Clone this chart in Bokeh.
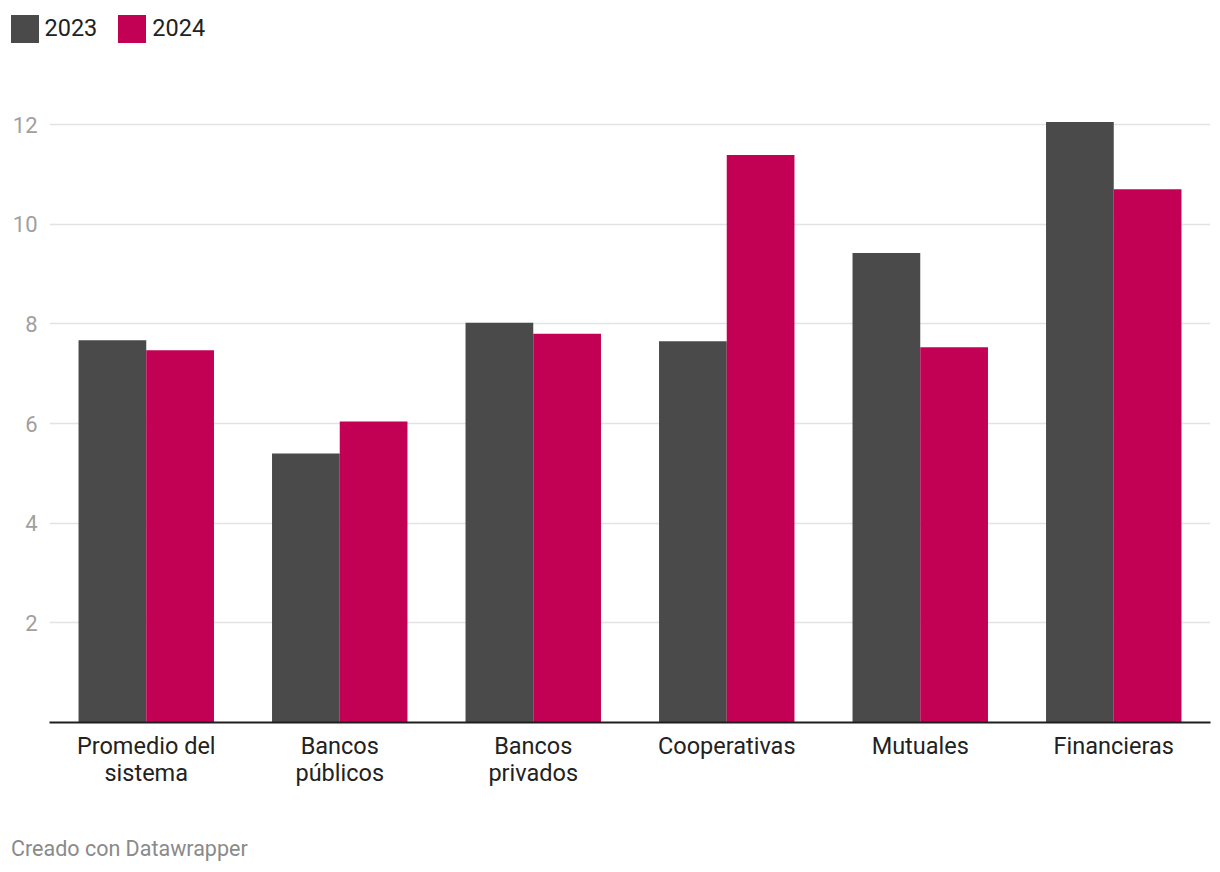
from bokeh.plotting import figure
from bokeh.models import (Range1d, FixedTicker, Legend, LegendItem, Label,
                          LinearAxis, ColumnDataSource)
from bokeh.transform import dodge
from bokeh.embed import file_html
from bokeh.resources import INLINE

categories = ["Promedio del sistema", "Bancos públicos", "Bancos privados",
              "Cooperativas", "Mutuales", "Financieras"]
label_line1 = ["Promedio del", "Bancos", "Bancos", "Cooperativas", "Mutuales", "Financieras"]
label_line2 = ["sistema", "públicos", "privados", "", "", ""]
values_2023 = [7.67, 5.40, 8.02, 7.65, 9.42, 12.05]
values_2024 = [7.47, 6.04, 7.80, 11.39, 7.53, 10.70]
series_names = ["2023", "2024"]
y_ticks = [2, 4, 6, 8, 10, 12]
footer_text = "Creado con Datawrapper"

COL_2023 = "#4a4a4a"
COL_2024 = "#c20154"
FONT = "Roboto"
TEXT = "#222222"

W, H = 1220, 872
LEG_H = 48           # legend strip height
FRAME_TOP = 100      # page pixel of plot-area top
FRAME_BOTTOM = 722   # page pixel of zero line
MAIN_BOTTOM = 802    # page pixel where the chart block ends
FOOT_H = H - MAIN_BOTTOM
PX_PER_UNIT = 49.83

idx = list(range(len(categories)))

# ---------------- legend strip ----------------
lg = figure(width=W, height=LEG_H, output_backend="svg", toolbar_location=None,
            x_axis_type=None, y_axis_type=None,
            x_range=Range1d(0, 1), y_range=Range1d(0, 1),
            min_border_left=0, min_border_right=0, min_border_top=0, min_border_bottom=0)
lg.outline_line_color = None
lg.xgrid.visible = False
lg.ygrid.visible = False
# zero-height placeholder bars: they only supply the legend swatches
dummy = ColumnDataSource(dict(x=[0.5], top=[0]))
l1 = lg.vbar(x="x", top="top", width=0.01, source=dummy, color=COL_2023, line_color=None)
l2 = lg.vbar(x="x", top="top", width=0.01, source=dummy, color=COL_2024, line_color=None)
legend = Legend(items=[LegendItem(label=series_names[0], renderers=[l1]),
                       LegendItem(label=series_names[1], renderers=[l2])],
                orientation="horizontal", location=(6.5, 2.5),
                glyph_width=35, glyph_height=35, padding=0, margin=0,
                spacing=17, label_standoff=3,
                label_text_font=FONT, label_text_font_size="23.5px",
                label_text_color=TEXT,
                border_line_color=None, background_fill_alpha=0)
lg.add_layout(legend, "center")

# ---------------- main chart ----------------
p = figure(width=W, height=MAIN_BOTTOM - LEG_H,
           x_range=Range1d(-0.5, len(categories) - 0.5),
           y_range=Range1d(0, (FRAME_BOTTOM - FRAME_TOP) / PX_PER_UNIT),
           output_backend="svg", toolbar_location=None,
           min_border_left=49, min_border_right=10,
           min_border_top=FRAME_TOP - LEG_H, min_border_bottom=MAIN_BOTTOM - FRAME_BOTTOM)
p.outline_line_color = None
p.background_fill_color = "white"
p.border_fill_color = "white"

src = ColumnDataSource(dict(idx=idx, cat=categories, v23=values_2023, v24=values_2024))
r1 = p.vbar(x=dodge("idx", -0.175), top="v23", width=0.35,
            source=src, color=COL_2023, line_color=None)
r2 = p.vbar(x=dodge("idx", 0.175), top="v24", width=0.35,
            source=src, color=COL_2024, line_color=None)

# grid / y axis
p.xgrid.grid_line_color = None
p.ygrid.grid_line_color = "#e3e3e3"
p.ygrid.grid_line_width = 1.4
p.yaxis.ticker = FixedTicker(ticks=y_ticks)
p.ygrid.ticker = FixedTicker(ticks=y_ticks)
p.yaxis.axis_line_color = None
p.yaxis.major_tick_line_color = None
p.yaxis.minor_tick_line_color = None
p.yaxis.major_label_standoff = 6
p.yaxis.major_label_text_font = FONT
p.yaxis.major_label_text_font_size = "22px"
p.yaxis.major_label_text_color = "#a0a0a0"

# x axis: first label line
xa = p.xaxis[0]
xa.ticker = FixedTicker(ticks=idx)
xa.axis_line_color = "#1e1e1e"
xa.axis_line_width = 2
xa.major_tick_line_color = None
xa.minor_tick_line_color = None
xa.major_label_standoff = 3
xa.major_label_text_font = FONT
xa.major_label_text_font_size = "23.5px"
xa.major_label_text_color = TEXT
xa.major_label_overrides = {i: t for i, t in zip(idx, label_line1)}

# x axis: second label line
idx2 = [i for i, t in zip(idx, label_line2) if t]
xa2 = LinearAxis(ticker=FixedTicker(ticks=idx2),
                 axis_line_color=None, major_tick_line_color=None,
                 minor_tick_line_color=None, major_label_standoff=-10,
                 major_label_text_font=FONT, major_label_text_font_size="23.5px",
                 major_label_text_color=TEXT,
                 major_label_overrides={i: label_line2[i] for i in idx2})
p.add_layout(xa2, "below")

# ---------------- footer strip ----------------
ft = figure(width=W, height=FOOT_H, output_backend="svg", toolbar_location=None,
            x_axis_type=None, y_axis_type=None,
            x_range=Range1d(0, W), y_range=Range1d(0, FOOT_H),
            min_border_left=0, min_border_right=0, min_border_top=0, min_border_bottom=0)
ft.outline_line_color = None
ft.xgrid.visible = False
ft.ygrid.visible = False
ft.add_layout(Label(x=10.5, y=FOOT_H - 46, text=footer_text, text_font=FONT,
                    text_font_size="21.5px", text_color="#8a8a8a",
                    text_baseline="middle", text_align="left"))

open("out.html", "w").write(file_html([lg, p, ft], INLINE))
